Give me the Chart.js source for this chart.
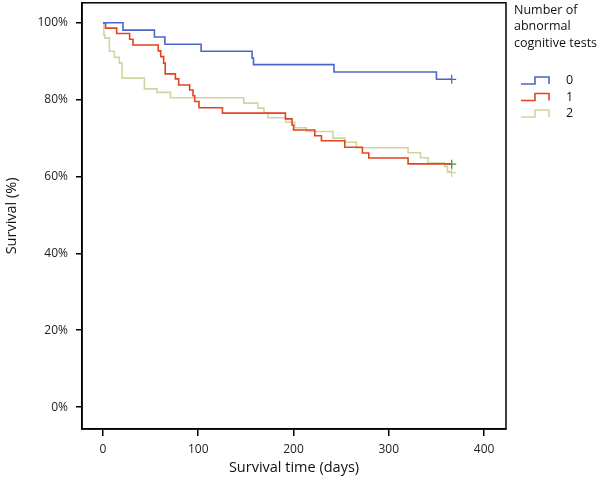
<!DOCTYPE html>
<html>
<head>
<meta charset="utf-8">
<script src="https://cdn.jsdelivr.net/npm/chart.js@4.4.1/dist/chart.umd.min.js"></script>
<style>
  html, body { margin: 0; padding: 0; background: #fff; overflow: hidden; }
  #wrap { width: 600px; height: 485px; margin-top: -3px; }
</style>
</head>
<body>
<div id="wrap"><canvas id="km"></canvas></div>
<script>
// Kaplan-Meier steps (days, survival %)
var groupNames = ["0", "1", "2"];
var groupColors = ["#4a66c6", "#e4431f", "#d3d3a2"];
var censorColors = ["#4a66c6", "#2ca02c", "#d3d3a2"];

var days0 = [0, 21, 54, 65, 103, 156.5, 158, 242.5, 350, 366];
var surv0 = [100, 98.1, 96.3, 94.4, 92.6, 90.8, 89.1, 87.2, 85.3, 85.3];

var days1 = [0, 2.8, 14.4, 28, 31.5, 58, 60.6, 63.7, 65.3, 76, 79.5, 91, 94.5, 96.3, 100.8,
  125.4, 191.5, 198.4, 200, 222.3, 229.3, 253.8, 272.3, 279, 320.2, 366];
var surv1 = [100, 98.6, 97.2, 95.7, 94.2, 92.7, 91.2, 89.5, 86.7, 85.4, 83.8, 82.5, 81.0, 79.5, 77.9,
  76.5, 75.0, 73.4, 72.1, 70.6, 69.3, 67.6, 66.1, 64.8, 63.3, 63.3];

var days2 = [0, 1, 2, 6.7, 12, 17.2, 20, 43.5, 56.7, 70.8, 147.7, 162.7, 169, 173.2, 191.8,
  201.3, 213.5, 241.5, 253.8, 266, 320.2, 333.2, 341.2, 358.7, 361.5, 366];
var surv2 = [100, 96.8, 96.0, 92.6, 91.0, 89.5, 85.6, 82.8, 81.9, 80.5, 79.1, 77.8, 76.5, 75.3, 74.1,
  72.7, 71.7, 70.0, 68.9, 67.5, 66.2, 64.9, 63.5, 62.6, 61.3, 61.3];

// censored at end of follow-up
var censorDays = [366, 366, 366];
var censorSurv = [85.3, 63.2, 61.0];

var xTicks = [0, 100, 200, 300, 400];
var yTicks = [0, 20, 40, 60, 80, 100];

var allDays = [days0, days1, days2];
var allSurv = [surv0, surv1, surv2];

function toPoints(xs, ys) {
  return xs.map(function(x, i) { return { x: x, y: ys[i] }; });
}

var datasets = [];
for (var g = 0; g < 3; g++) {
  datasets.push({
    label: groupNames[g],
    data: toPoints(allDays[g], allSurv[g]),
    borderColor: groupColors[g],
    borderWidth: 1.6,
    stepped: "before",
    pointRadius: 0,
    fill: false
  });
}
for (var c = 0; c < 3; c++) {
  datasets.push({
    label: "censor " + groupNames[c],
    data: [{ x: censorDays[c], y: censorSurv[c] }],
    showLine: false,
    pointStyle: "cross",
    pointRadius: 4.5,
    borderColor: censorColors[c],
    borderWidth: 1.3
  });
}

// box round the plot area
var frame = {
  id: "frame",
  afterDraw: function(chart) {
    var a = chart.chartArea, ctx = chart.ctx;
    ctx.save();
    ctx.strokeStyle = "#000";
    ctx.lineWidth = 1.5;
    ctx.strokeRect(a.left, a.top, a.right - a.left, a.bottom - a.top);
    ctx.restore();
  }
};

// legend on the right with step symbols (canvas is shifted up 3px)
var stepLegend = {
  id: "stepLegend",
  afterDraw: function(chart) {
    var ctx = chart.ctx;
    ctx.save();
    ctx.fillStyle = "#111";
    ctx.font = "12.5px 'Open Sans', sans-serif";
    ctx.textBaseline = "middle";
    ctx.textAlign = "left";
    ["Number of", "abnormal", "cognitive tests"].forEach(function(t, i) {
      ctx.fillText(t, 514, 13 + i * 16.5);
    });
    for (var i = 0; i < 3; i++) {
      var y = 83.5 + i * 16.5;
      ctx.strokeStyle = groupColors[i];
      ctx.lineWidth = 1.6;
      ctx.beginPath();
      ctx.moveTo(521, y + 3.5);
      ctx.lineTo(535, y + 3.5);
      ctx.lineTo(535, y - 3.5);
      ctx.lineTo(549, y - 3.5);
      ctx.lineTo(549, y + 3.5);
      ctx.stroke();
      ctx.fillStyle = "#111";
      ctx.fillText(groupNames[i], 566, y);
    }
    ctx.restore();
  }
};

Chart.defaults.font.family = "'Open Sans', sans-serif";
Chart.defaults.color = "#222";

new Chart(document.getElementById("km"), {
  type: "line",
  data: { datasets: datasets },
  plugins: [frame, stepLegend],
  options: {
    responsive: true,
    maintainAspectRatio: false,
    animation: false,
    layout: { padding: { top: 2, right: 94, left: 0, bottom: 0 } },
    plugins: { legend: { display: false }, tooltip: { enabled: false } },
    scales: {
      x: {
        type: "linear",
        min: -22,
        max: 423,
        afterFit: function(s) { s.height = 53; s.paddingLeft = 0; s.paddingRight = 0; },
        afterBuildTicks: function(s) { s.ticks = xTicks.map(function(v) { return { value: v }; }); },
        ticks: { font: { size: 12 }, padding: 6, maxRotation: 0 },
        grid: { drawOnChartArea: false, drawTicks: true, tickLength: 7, color: "#000", lineWidth: 1.5 },
        border: { display: true, color: "#000", width: 1.5 },
        title: { display: true, text: "Survival time (days)", font: { size: 14.5 }, color: "#111", padding: { top: 2, bottom: 5 } }
      },
      y: {
        type: "linear",
        min: -5.7,
        max: 105.2,
        afterFit: function(s) { s.width = 82; s.paddingTop = 0; s.paddingBottom = 0; },
        afterBuildTicks: function(s) { s.ticks = yTicks.map(function(v) { return { value: v }; }); },
        ticks: { font: { size: 12 }, padding: 8, callback: function(v) { return v + "%"; } },
        grid: { drawOnChartArea: false, drawTicks: true, tickLength: 6, color: "#000", lineWidth: 1.5 },
        border: { display: true, color: "#000", width: 1.5 },
        title: { display: true, text: "Survival (%)", font: { size: 14.5 }, color: "#111", padding: { top: 3, bottom: 4 } }
      }
    }
  }
});
</script>
</body>
</html>
